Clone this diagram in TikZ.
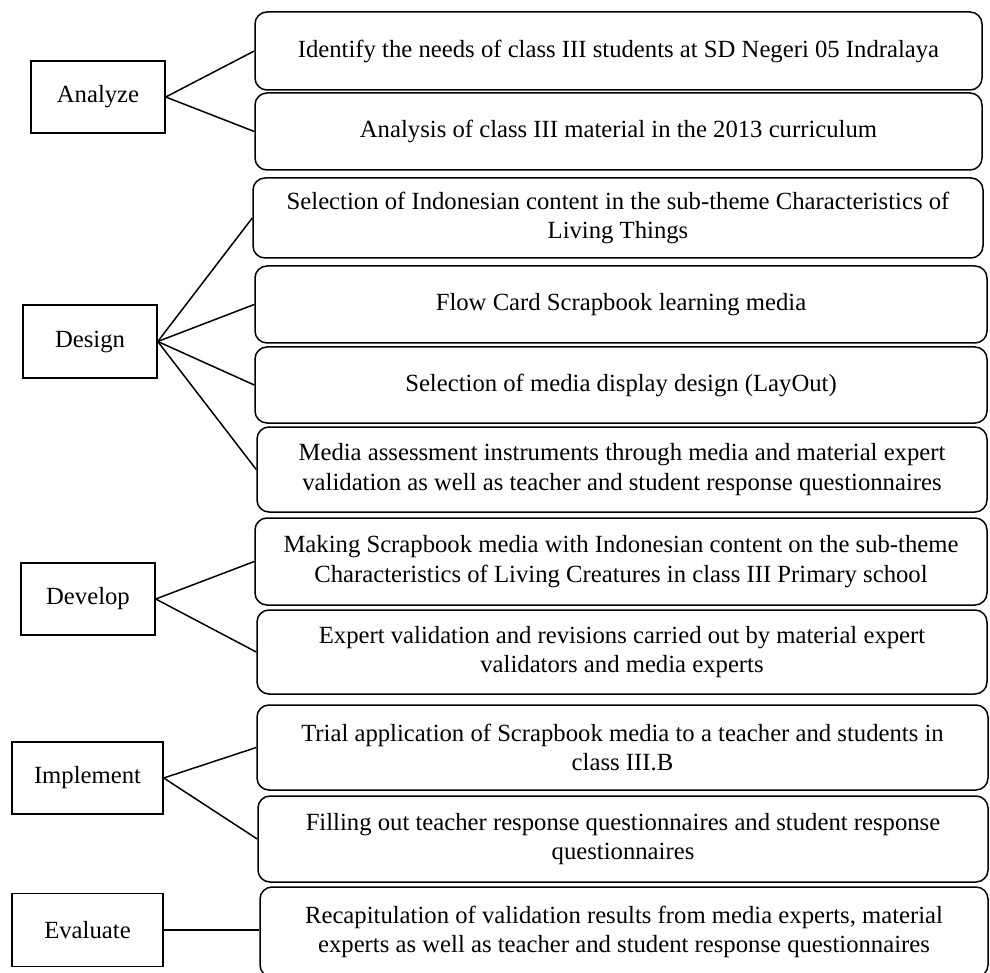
\documentclass[tikz,border=0pt]{standalone}
\usepackage{fontspec}
\setmainfont{Liberation Serif}
\begin{document}
\begin{tikzpicture}[x=1pt,y=-1pt,
  every node/.style={inner sep=0pt, align=center, font=\fontsize{24.7}{29.5}\selectfont},
  rbox/.style={draw, line width=1.5pt, rounded corners=12pt},
  lbox/.style={draw, line width=1.5pt},
  conn/.style={line width=1.5pt}]
\useasboundingbox (0,0) rectangle (990,973);
\clip (0,0) rectangle (990,973);
% left stage boxes
\node[lbox, minimum width=134pt, minimum height=72pt] (an) at (98,97) {Analyze};
\node[lbox, minimum width=134pt, minimum height=73pt] (de) at (90,341.5) {Design};
\node[lbox, minimum width=134pt, minimum height=72pt] (dv) at (88,599) {Develop};
\node[lbox, minimum width=151pt, minimum height=72pt] (im) at (87.5,778) {Implement};
\node[lbox, minimum width=151pt, minimum height=73pt] (ev) at (87.5,930) {Evaluate};
% right activity boxes
\node[rbox, minimum width=727pt, minimum height=78pt] (b1) at (618.5,51) {Identify the needs of class III students at SD Negeri 05 Indralaya};
\node[rbox, minimum width=727pt, minimum height=77pt] (b2) at (618.5,131.5) {Analysis of class III material in the 2013 curriculum};
\node[rbox, minimum width=730pt, minimum height=80pt] (b3) at (618,218) {Selection of Indonesian content in the sub-theme Characteristics of\\Living Things};
\node[rbox, minimum width=732pt, minimum height=77pt] (b4) at (621,304.5) {Flow Card Scrapbook learning media};
\node[rbox, minimum width=732pt, minimum height=76pt] (b5) at (621,385) {Selection of media display design (LayOut)};
\node[rbox, minimum width=730pt, minimum height=85pt] (b6) at (622,469.5) {Media assessment instruments through media and material expert\\validation as well as teacher and student response questionnaires};
\node[rbox, minimum width=732pt, minimum height=87pt] (b7) at (621,561.5) {Making Scrapbook media with Indonesian content on the sub-theme\\Characteristics of Living Creatures in class III Primary school};
\node[rbox, minimum width=730pt, minimum height=84pt] (b8) at (622,652) {Expert validation and revisions carried out by material expert\\validators and media experts};
\node[rbox, minimum width=731pt, minimum height=85pt] (b9) at (622.5,747.5) {Trial application of Scrapbook media to a teacher and students in\\class III.B};
\node[rbox, minimum width=730pt, minimum height=86pt] (b10) at (623,839) {Filling out teacher response questionnaires and student response\\questionnaires};
\node[rbox, minimum width=728pt, minimum height=90pt] (b11) at (624,932) {Recapitulation of validation results from media experts, material\\experts as well as teacher and student response questionnaires};
% connectors
\draw[conn] (an.east) -- (b1.west);
\draw[conn] (an.east) -- (b2.west);
\draw[conn] (de.east) -- (b3.west);
\draw[conn] (de.east) -- (b4.west);
\draw[conn] (de.east) -- (b5.west);
\draw[conn] (de.east) -- (b6.west);
\draw[conn] (dv.east) -- (b7.west);
\draw[conn] (dv.east) -- (b8.west);
\draw[conn] (im.east) -- (b9.west);
\draw[conn] (im.east) -- (b10.west);
\draw[conn] (ev.east) -- (ev.east -| b11.west);
\end{tikzpicture}
\end{document}
